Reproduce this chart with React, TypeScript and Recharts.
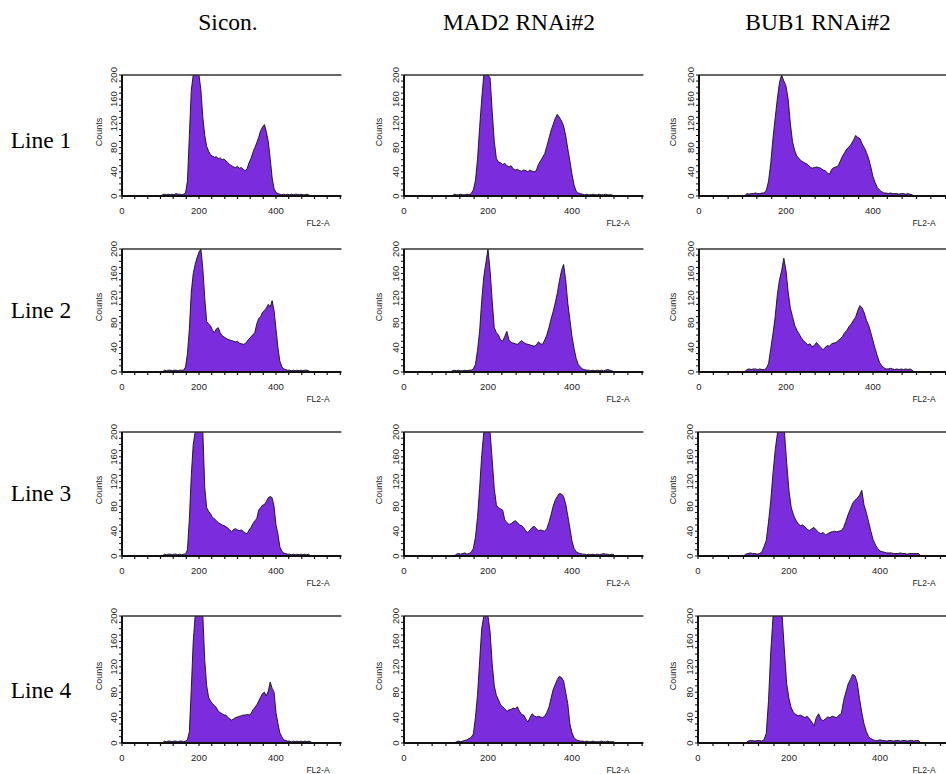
import React from "react";
import { AreaChart, Area, XAxis, YAxis, ReferenceLine } from "recharts";

// FL2-A channel at which each count was read (every 5 channels)
const channels = [
  100, 105, 110, 115, 120, 125, 130, 135, 140, 145, 150, 155, 160, 165,
  170, 175, 180, 185, 190, 195, 200, 205, 210, 215, 220, 225, 230, 235,
  240, 245, 250, 255, 260, 265, 270, 275, 280, 285, 290, 295, 300, 305,
  310, 315, 320, 325, 330, 335, 340, 345, 350, 355, 360, 365, 370, 375,
  380, 385, 390, 395, 400, 405, 410, 415, 420, 425, 430, 435, 440, 445,
  450, 455, 460, 465, 470, 475, 480, 485, 490, 495, 500,
];

const columnTitles = ["Sicon.", "MAD2 RNAi#2", "BUB1 RNAi#2"];
const rowTitles = ["Line 1", "Line 2", "Line 3", "Line 4"];

const xTicks = [0, 33, 67, 100, 133, 167, 200, 233, 267, 300, 333, 367, 400, 433, 467, 500, 533, 567];
const xTickLabels = [0, 200, 400];
const yTicks = [0, 10, 20, 30, 40, 50, 60, 70, 80, 90, 100, 110, 120, 130, 140, 150, 160, 170, 180, 190, 200];
const yTickLabels = [0, 40, 80, 120, 160, 200];

const siconLine1 = [
  0, 2, 3, 2, 3, 2, 3, 2, 4, 3, 3, 2, 3, 5,
  25, 100, 175, 200, 200, 200, 200, 175, 130, 100, 82, 74, 68, 66,
  64, 65, 62, 63, 60, 61, 58, 55, 52, 50, 48, 47, 49, 46,
  47, 44, 42, 45, 55, 62, 72, 80, 88, 97, 108, 114, 118, 106,
  90, 62, 30, 12, 6, 4, 3, 2, 3, 2, 3, 2, 3, 2,
  3, 3, 2, 3, 2, 2, 3, 2, 0, 0, 0,
];
const mad2Line1 = [
  0, 0, 0, 0, 3, 2, 2, 3, 2, 2, 3, 2, 4, 10,
  25, 60, 113, 160, 200, 200, 200, 195, 140, 90, 62, 56, 55, 52,
  54, 50, 48, 50, 45, 43, 44, 42, 41, 43, 42, 40, 43, 41,
  40, 42, 52, 58, 64, 70, 82, 95, 108, 118, 128, 135, 130, 124,
  116, 100, 78, 58, 36, 18, 8, 5, 4, 3, 2, 3, 2, 2,
  3, 2, 2, 3, 2, 2, 3, 2, 2, 2, 0,
];
const bub1Line1 = [
  0, 0, 4, 3, 4, 4, 5, 4, 4, 5, 5, 10, 25, 55,
  95, 128, 160, 188, 200, 190, 182, 160, 120, 90, 75, 66, 62, 58,
  56, 54, 52, 48, 46, 47, 48, 47, 46, 43, 42, 38, 36, 44,
  47, 48, 50, 58, 66, 72, 78, 81, 86, 92, 100, 97, 95, 86,
  80, 72, 62, 48, 32, 22, 14, 10, 7, 5, 5, 4, 5, 4,
  4, 4, 3, 4, 4, 3, 4, 3, 2, 0, 0,
];
const siconLine2 = [
  0, 0, 3, 2, 3, 3, 2, 3, 3, 2, 3, 3, 3, 8,
  30, 70, 130, 160, 175, 186, 195, 200, 168, 120, 82, 78, 75, 68,
  64, 70, 72, 64, 59, 57, 55, 53, 52, 51, 50, 49, 50, 47,
  46, 45, 46, 50, 54, 57, 61, 64, 78, 87, 90, 97, 100, 104,
  110, 106, 116, 100, 70, 40, 18, 9, 5, 4, 3, 3, 2, 3,
  2, 3, 2, 3, 2, 3, 3, 2, 0, 0, 0,
];
const mad2Line2 = [
  0, 0, 0, 2, 3, 2, 3, 2, 2, 3, 2, 3, 3, 5,
  12, 35, 66, 116, 155, 178, 200, 165, 116, 72, 64, 60, 52, 50,
  58, 66, 52, 48, 47, 46, 45, 48, 51, 48, 46, 45, 44, 43,
  42, 44, 49, 46, 45, 52, 60, 72, 86, 98, 112, 128, 148, 165,
  175, 150, 112, 85, 58, 38, 22, 12, 8, 5, 4, 3, 3, 2,
  3, 2, 3, 2, 3, 2, 3, 4, 3, 2, 0,
];
const bub1Line2 = [
  0, 0, 4, 5, 4, 5, 5, 4, 5, 4, 4, 6, 14, 38,
  62, 89, 125, 150, 165, 185, 165, 130, 104, 90, 76, 68, 62, 56,
  51, 48, 44, 46, 41, 43, 48, 44, 40, 36, 40, 43, 42, 46,
  47, 48, 51, 54, 58, 64, 68, 74, 78, 84, 89, 100, 108, 104,
  96, 84, 76, 64, 51, 38, 26, 16, 10, 7, 5, 5, 6, 5,
  4, 5, 4, 5, 4, 5, 4, 5, 3, 0, 0,
];
const siconLine3 = [
  0, 0, 3, 2, 3, 3, 2, 3, 3, 2, 3, 2, 3, 3,
  10, 60, 130, 180, 200, 200, 200, 200, 200, 110, 78, 72, 68, 62,
  60, 57, 54, 52, 50, 49, 47, 45, 42, 39, 43, 44, 42, 41,
  42, 40, 37, 36, 42, 46, 52, 57, 60, 74, 78, 82, 83, 88,
  94, 96, 94, 80, 50, 36, 15, 8, 5, 4, 3, 3, 2, 3,
  2, 3, 2, 3, 2, 3, 2, 3, 0, 0, 0,
];
const mad2Line3 = [
  0, 0, 0, 0, 0, 3, 4, 3, 4, 5, 3, 4, 6, 12,
  30, 62, 109, 162, 200, 200, 200, 200, 155, 109, 82, 78, 76, 74,
  58, 54, 51, 52, 55, 57, 54, 50, 49, 46, 40, 38, 42, 46,
  48, 44, 41, 42, 41, 40, 44, 54, 66, 80, 90, 96, 101, 100,
  96, 84, 65, 45, 24, 12, 7, 5, 4, 3, 3, 2, 3, 2,
  3, 2, 3, 2, 3, 4, 3, 3, 2, 3, 2,
];
const bub1Line3 = [
  0, 3, 4, 5, 4, 4, 3, 4, 6, 15, 25, 55, 90, 135,
  173, 200, 200, 200, 200, 150, 105, 78, 66, 58, 52, 49, 50, 47,
  43, 41, 44, 46, 42, 38, 36, 38, 34, 36, 38, 39, 40, 39,
  40, 41, 46, 56, 67, 76, 85, 90, 93, 98, 106, 82, 70, 55,
  40, 26, 18, 12, 8, 7, 6, 5, 5, 5, 4, 4, 4, 5,
  4, 4, 3, 4, 4, 4, 4, 4, 0, 0, 0,
];
const siconLine4 = [
  0, 0, 3, 2, 3, 3, 2, 3, 3, 2, 3, 3, 2, 3,
  5, 18, 85, 160, 200, 200, 200, 200, 200, 130, 90, 72, 66, 62,
  59, 56, 50, 48, 46, 44, 44, 40, 38, 36, 38, 40, 41, 42,
  43, 44, 44, 45, 44, 46, 52, 56, 60, 66, 72, 78, 80, 74,
  82, 96, 86, 80, 48, 31, 16, 10, 5, 4, 3, 3, 2, 3,
  2, 3, 2, 3, 2, 3, 2, 3, 2, 0, 0,
];
const mad2Line4 = [
  0, 0, 0, 0, 0, 2, 3, 2, 3, 4, 5, 7, 9, 14,
  40, 75, 128, 180, 200, 200, 200, 175, 125, 90, 75, 68, 60, 57,
  54, 50, 52, 53, 55, 54, 57, 50, 45, 44, 38, 33, 40, 46,
  43, 41, 42, 41, 40, 42, 48, 56, 70, 84, 92, 100, 105, 103,
  98, 80, 62, 30, 16, 8, 5, 4, 3, 3, 2, 3, 2, 2,
  3, 2, 2, 2, 3, 2, 2, 3, 2, 2, 2,
];
const bub1Line4 = [
  0, 0, 3, 4, 4, 3, 4, 4, 3, 5, 15, 67, 145, 200,
  200, 200, 200, 200, 145, 93, 70, 55, 48, 45, 43, 44, 42, 40,
  42, 38, 33, 27, 40, 46, 38, 35, 38, 41, 40, 42, 41, 40,
  44, 46, 67, 80, 93, 100, 108, 106, 95, 70, 48, 30, 18, 10,
  7, 5, 4, 4, 5, 4, 4, 3, 4, 4, 3, 4, 4, 3,
  4, 4, 3, 4, 4, 3, 4, 4, 0, 0, 0,
];

const grid = [
  [siconLine1, mad2Line1, bub1Line1],
  [siconLine2, mad2Line2, bub1Line2],
  [siconLine3, mad2Line3, bub1Line3],
  [siconLine4, mad2Line4, bub1Line4],
];

// layout (pixels)
const X_MAX = 570;
const colX = [
  { axis: 122, scale: 77 / 200, title: 228, counts: 99, fl2: 318 },
  { axis: 404, scale: 84 / 200, title: 519, counts: 379, fl2: 618 },
  { axis: 699, scale: 87 / 200, title: 818, counts: 673, fl2: 924 },
];
const rowY = [
  { top: 75, base: 196, label: 140 },
  { top: 249, base: 372, label: 310 },
  { top: 432, base: 556, label: 493 },
  { top: 616, base: 743, label: 690 },
];

const PURPLE = "#7b2cdc";
const SANS = "'Liberation Sans', Arial, sans-serif";
const SERIF = "'Liberation Serif', 'Times New Roman', serif";

const XTick = (props: any) => {
  const { x, y, payload } = props;
  const v = payload.value;
  if (!xTickLabels.includes(v)) return null;
  return (
    <text x={x} y={y + 13} textAnchor="middle" fontSize={9.5} fill="#222" fontFamily={SANS}>
      {v}
    </text>
  );
};

const YTick = (props: any) => {
  const { x, y, payload } = props;
  const v = payload.value;
  if (!yTickLabels.includes(v)) return null;
  return (
    <text
      x={x}
      y={y}
      transform={`rotate(-90 ${x} ${y})`}
      textAnchor="middle"
      fontSize={9.5}
      fill="#222"
      fontFamily={SANS}
    >
      {v}
    </text>
  );
};

function Panel({ values, row, col }: { values: number[]; row: number; col: number }) {
  const c = colX[col];
  const r = rowY[row];
  const scale = col === 2 && row >= 2 ? 91 / 200 : c.scale;
  const axis = col === 2 && row >= 2 ? 698 : c.axis;
  const ML = 40, MT = 14, MR = 4, MB = 34;
  const plotW = X_MAX * scale;
  const plotH = r.base - r.top;
  const data = channels.map((ch, i) => ({ ch, count: values[i] }));
  return (
    <div style={{ position: "absolute", left: axis - ML, top: r.top - MT }}>
      <AreaChart
        width={ML + plotW + MR}
        height={MT + plotH + MB}
        data={data}
        margin={{ top: MT, right: MR, left: 0, bottom: 0 }}
      >
        <XAxis
          type="number"
          dataKey="ch"
          domain={[0, X_MAX]}
          ticks={xTicks}
          interval={0}
          height={MB}
          tick={<XTick />}
          tickSize={3}
          axisLine={{ stroke: "#111", strokeWidth: 2 }}
          tickLine={{ stroke: "#111", strokeWidth: 1.2 }}
          allowDataOverflow
        />
        <YAxis
          type="number"
          domain={[0, 200]}
          ticks={yTicks}
          interval={0}
          width={ML}
          tick={<YTick />}
          tickSize={3}
          axisLine={{ stroke: "#111", strokeWidth: 2 }}
          tickLine={{ stroke: "#111", strokeWidth: 1 }}
          allowDataOverflow
        />
        <ReferenceLine y={200} stroke="#333" strokeWidth={1.5} />
        <Area
          type="linear"
          dataKey="count"
          stroke="#111"
          strokeWidth={0.9}
          fill={PURPLE}
          fillOpacity={1}
          dot={false}
          activeDot={false}
          isAnimationActive={false}
        />
      </AreaChart>
      <div
        style={{
          position: "absolute",
          left: c.counts - (axis - ML),
          top: MT + plotH * 0.47,
          transform: "translate(-50%, -50%) rotate(-90deg)",
          fontFamily: SANS,
          fontSize: 9,
          color: "#222",
        }}
      >
        Counts
      </div>
      <div
        style={{
          position: "absolute",
          left: c.fl2 - (axis - ML),
          top: MT + plotH + 27,
          transform: "translate(-50%, -50%)",
          fontFamily: SANS,
          fontSize: 8.5,
          color: "#222",
          whiteSpace: "nowrap",
        }}
      >
        FL2-A
      </div>
    </div>
  );
}

export default function App() {
  return (
    <div
      style={{
        position: "absolute",
        left: 0,
        top: 0,
        width: 946,
        height: 774,
        background: "#fff",
        overflow: "hidden",
      }}
    >
      {columnTitles.map((t, i) => (
        <div
          key={t}
          style={{
            position: "absolute",
            left: colX[i].title,
            top: 22,
            transform: "translate(-50%, -50%)",
            fontFamily: SERIF,
            fontSize: 23.5,
            whiteSpace: "nowrap",
          }}
        >
          {t}
        </div>
      ))}
      {rowTitles.map((t, i) => (
        <div
          key={t}
          style={{
            position: "absolute",
            left: 41,
            top: rowY[i].label,
            transform: "translate(-50%, -50%)",
            fontFamily: SERIF,
            fontSize: 23.5,
            whiteSpace: "nowrap",
          }}
        >
          {t}
        </div>
      ))}
      {grid.map((rowVals, r) =>
        rowVals.map((vals, c) => <Panel key={`${r}-${c}`} values={vals} row={r} col={c} />)
      )}
    </div>
  );
}
